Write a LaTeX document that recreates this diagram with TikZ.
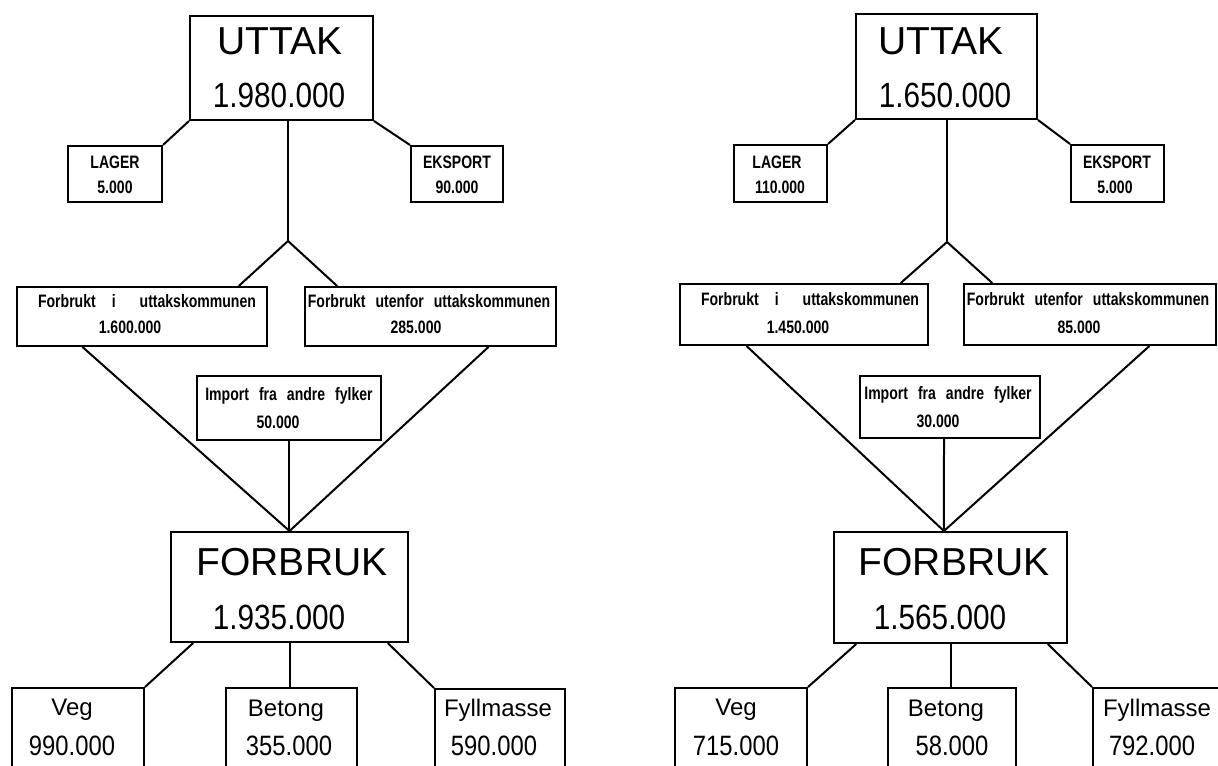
\documentclass[tikz,border=0pt]{standalone}
\usepackage{fontspec}
\setmainfont{Liberation Sans}
\newfontfamily\numf[FakeStretch=0.85]{Liberation Sans}
\newfontfamily\smallf[FakeStretch=0.78]{Liberation Sans}
\usetikzlibrary{calc}
\tikzset{
  box/.style={draw, line width=1pt, inner sep=0pt, rectangle},
  conn/.style={line width=1pt},
  big/.style={font=\fontsize{19.5}{22}\selectfont, anchor=base, inner sep=0pt},
  bignum/.style={font=\numf\fontsize{17.5}{20}\selectfont, anchor=base, inner sep=0pt},
  sm/.style={font=\smallf\bfseries\fontsize{9}{11}\selectfont, anchor=base, inner sep=0pt},
  lab/.style={font=\fontsize{12}{14}\selectfont, anchor=base, inner sep=0pt},
  labnum/.style={font=\numf\fontsize{14}{16}\selectfont, anchor=base, inner sep=0pt}
}
\newcommand\bx[5]{\node[box,minimum width={(#4-#2)*0.5pt},minimum height={(#5-#3)*0.5pt}] (#1) at ({(#2+#4)/2},{(#3+#5)/2}) {};}
\begin{document}
\begin{tikzpicture}[x=0.5pt,y=-0.5pt]
\clip (0,0) rectangle (1218,765);
\fill[white] (0,0) rectangle (1218,765);
% ---------------- left diagram ----------------
\bx{uttakL}{190}{16}{373}{120}
\bx{lagerL}{68}{146}{162}{202}
\bx{eksL}{411}{146}{503}{202}
\bx{fiL}{17}{287}{267}{346}
\bx{fuL}{305}{287}{556}{346}
\bx{impL}{197}{376}{381}{440}
\bx{forL}{171}{532}{408}{642}
\bx{vegL}{12}{688}{144}{790}
\bx{betL}{226}{688}{357}{790}
\bx{fylL}{435}{689}{565}{790}
\coordinate (splitL) at (288,241);
\draw[conn] (uttakL.south west) -- (lagerL.north east);
\draw[conn] (uttakL.south east) -- (eksL.north west);
\draw[conn] (uttakL.south -| splitL) -- (splitL);
\draw[conn] ($(fiL.north west)!0.884!(fiL.north east)$) -- (splitL) -- ($(fuL.north west)!0.131!(fuL.north east)$);
\draw[conn] ($(fiL.south west)!0.264!(fiL.south east)$) -- (forL.north) -- ($(fuL.south west)!0.729!(fuL.south east)$);
\draw[conn] (impL.south) -- (impL.south |- forL.north);
\draw[conn] ($(forL.south west)!0.097!(forL.south east)$) -- (vegL.north east);
\draw[conn] ($(forL.south west)!0.911!(forL.south east)$) -- (fylL.north west);
\draw[conn] (forL.south) -- (forL.south |- betL.north);
\node[big] (tUL) at (280,55) {UTTAK};
\node[bignum] (nUL) at (279,107) {1.980.000};
\node[sm] (tLL) at (115,168) {LAGER};
\node[sm] (nLL) at (115,193) {5.000};
\node[sm] (tEL) at (457,168) {EKSPORT};
\node[sm] (nEL) at (457,193) {90.000};
\node[sm] (tFIL) at (147,307) {Forbrukt\hspace{8pt}i\hspace{12pt}uttakskommunen};
\node[sm] (nFIL) at (130,333) {1.600.000};
\node[sm] (tFUL) at (429,307) {Forbrukt\hspace{5pt}utenfor\hspace{5pt}uttakskommunen};
\node[sm] (nFUL) at (416,333) {285.000};
\node[sm] (tIL) at (289,400) {Import\hspace{5pt}fra\hspace{5pt}andre\hspace{5pt}fylker};
\node[sm] (nIL) at (278,428) {50.000};
\node[big] (tFL) at (292,575) {FORBRUK};
\node[bignum] (nFL) at (279,629) {1.935.000};
\node[lab] (tVL) at (72,715) {Veg};
\node[labnum] (nVL) at (72,755) {990.000};
\node[lab] (tBL) at (286,716) {Betong};
\node[labnum] (nBL) at (289,755) {355.000};
\node[lab] (tYL) at (498,716) {Fyllmasse};
\node[labnum] (nYL) at (494,755) {590.000};
% ---------------- right diagram ----------------
\bx{uttakR}{856}{14}{1037}{119}
\bx{lagerR}{734}{145}{827}{202}
\bx{eksR}{1071}{145}{1164}{202}
\bx{fiR}{680}{284}{928}{345}
\bx{fuR}{964}{284}{1216}{345}
\bx{impR}{860}{376}{1040}{438}
\bx{forR}{834}{532}{1067}{643}
\bx{vegR}{675}{688}{807}{790}
\bx{betR}{888}{688}{1016}{790}
\bx{fylR}{1093}{688}{1260}{790}
\coordinate (splitR) at (947,242);
\draw[conn] (uttakR.south west) -- (lagerR.north east);
\draw[conn] (uttakR.south east) -- (eksR.north west);
\draw[conn] (uttakR.south -| splitR) -- (splitR);
\draw[conn] ($(fiR.north west)!0.887!(fiR.north east)$) -- (splitR) -- ($(fuR.north west)!0.115!(fuR.north east)$);
\draw[conn] ($(fiR.south west)!0.27!(fiR.south east)$) -- ($(forR.north west)!0.472!(forR.north east)$) -- ($(fuR.south west)!0.734!(fuR.south east)$);
\draw[conn] ($(impR.south west)!0.467!(impR.south east)$) -- ($(forR.north west)!0.472!(forR.north east)$);
\draw[conn] ($(forR.south west)!0.099!(forR.south east)$) -- (vegR.north east);
\draw[conn] ($(forR.south west)!0.914!(forR.south east)$) -- (fylR.north west);
\draw[conn] (forR.south) -- (forR.south |- betR.north);
\node[big] (tUR) at (941,55) {UTTAK};
\node[bignum] (nUR) at (945,107) {1.650.000};
\node[sm] (tLR) at (777,168) {LAGER};
\node[sm] (nLR) at (780,193) {110.000};
\node[sm] (tER) at (1117,168) {EKSPORT};
\node[sm] (nER) at (1115,193) {5.000};
\node[sm] (tFIR) at (810,305) {Forbrukt\hspace{8pt}i\hspace{12pt}uttakskommunen};
\node[sm] (nFIR) at (798,333) {1.450.000};
\node[sm] (tFUR) at (1088,305) {Forbrukt\hspace{5pt}utenfor\hspace{5pt}uttakskommunen};
\node[sm] (nFUR) at (1079,333) {85.000};
\node[sm] (tIR) at (948,399) {Import\hspace{5pt}fra\hspace{5pt}andre\hspace{5pt}fylker};
\node[sm] (nIR) at (938,427) {30.000};
\node[big] (tFR) at (954,575) {FORBRUK};
\node[bignum] (nFR) at (940,629) {1.565.000};
\node[lab] (tVR) at (736,715) {Veg};
\node[labnum] (nVR) at (736,755) {715.000};
\node[lab] (tBR) at (946,716) {Betong};
\node[labnum] (nBR) at (952,755) {58.000};
\node[lab] (tYR) at (1157,716) {Fyllmasse};
\node[labnum] (nYR) at (1152,755) {792.000};
\end{tikzpicture}
\end{document}
